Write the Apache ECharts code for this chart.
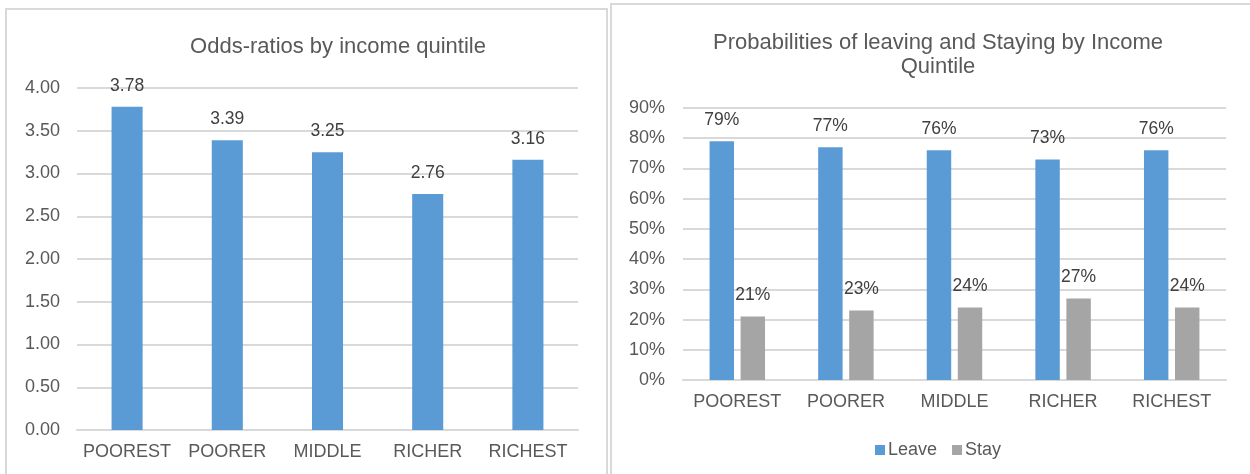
<!DOCTYPE html>
<html>
<head>
<meta charset="utf-8">
<script src="https://cdn.jsdelivr.net/npm/echarts@6/dist/echarts.min.js"></script>
<style>
  html, body { margin: 0; padding: 0; background: #ffffff; }
  #chart { width: 1250px; height: 474px; }
</style>
</head>
<body>
<div id="chart"></div>
<script>
// Income quintiles shared by both panels
const quintiles = ['POOREST', 'POORER', 'MIDDLE', 'RICHER', 'RICHEST'];

// Left panel: odds-ratios
const oddsRatios = [3.78, 3.39, 3.25, 2.76, 3.16];

// Right panel: probabilities (percent)
const leaveProb = [79, 77, 76, 73, 76];
const stayProb = [21, 23, 24, 27, 24];

const FONT = '"Liberation Sans", Arial, sans-serif';
const TEXT = '#595959';
const LABEL = '#404040';
const GRIDLINE = '#d9d9d9';
const BLUE = '#5b9bd5';
const GRAY = '#a5a5a5';

const chart = echarts.init(document.getElementById('chart'), null, { renderer: 'canvas' });

const axisLabelStyle = { color: TEXT, fontFamily: FONT, fontSize: 18 };
const dataLabel = { show: true, position: 'top', distance: 12, color: LABEL, fontFamily: FONT, fontSize: 17.5 };

chart.setOption({
  animation: false,
  textStyle: { fontFamily: FONT },
  graphic: [
    // panel frames
    { type: 'rect', shape: { x: 6, y: 9, width: 601, height: 480 },
      style: { fill: 'none', stroke: GRIDLINE, lineWidth: 2 }, silent: true, z: -1 },
    { type: 'rect', shape: { x: 611, y: 4, width: 660, height: 490 },
      style: { fill: 'none', stroke: GRIDLINE, lineWidth: 2 }, silent: true, z: -1 }
  ],
  title: [
    { text: 'Odds-ratios by income quintile', left: 333, top: 31, textAlign: 'center',
      textStyle: { color: TEXT, fontFamily: FONT, fontSize: 22, fontWeight: 'normal' } },
    { text: 'Probabilities of leaving and Staying by Income\nQuintile', left: 933, top: 26, textAlign: 'center',
      textStyle: { color: TEXT, fontFamily: FONT, fontSize: 22, fontWeight: 'normal', lineHeight: 24 } }
  ],
  legend: {
    data: ['Leave', 'Stay'],
    left: 870, top: 436,
    itemWidth: 10, itemHeight: 10, itemGap: 15,
    icon: 'rect',
    textStyle: { color: TEXT, fontFamily: FONT, fontSize: 18, padding: [0, 0, 0, -2] }
  },
  grid: [
    { left: 77, right: 672, top: 88, bottom: 44 },
    { left: 683, right: 24, top: 108, bottom: 94 }
  ],
  xAxis: [
    { type: 'category', gridIndex: 0, data: quintiles,
      axisLine: { lineStyle: { color: GRIDLINE, width: 2 } }, axisTick: { show: false },
      axisLabel: Object.assign({ margin: 13, interval: 0 }, axisLabelStyle) },
    { type: 'category', gridIndex: 1, data: quintiles,
      axisLine: { lineStyle: { color: GRIDLINE, width: 2 } }, axisTick: { show: false },
      axisLabel: Object.assign({ margin: 13, interval: 0 }, axisLabelStyle) }
  ],
  yAxis: [
    { type: 'value', gridIndex: 0, min: 0, max: 4, interval: 0.5,
      axisLine: { show: false }, axisTick: { show: false },
      splitLine: { lineStyle: { color: GRIDLINE, width: 2 } },
      axisLabel: Object.assign({ margin: 17, formatter: v => v.toFixed(2) }, axisLabelStyle) },
    { type: 'value', gridIndex: 1, min: 0, max: 90, interval: 10,
      axisLine: { show: false }, axisTick: { show: false },
      splitLine: { lineStyle: { color: GRIDLINE, width: 2 } },
      axisLabel: Object.assign({ margin: 18, formatter: v => v + '%' }, axisLabelStyle) }
  ],
  series: [
    { name: 'Odds-ratio', type: 'bar', xAxisIndex: 0, yAxisIndex: 0, data: oddsRatios,
      barWidth: '31%', itemStyle: { color: BLUE },
      label: Object.assign({ formatter: p => p.value.toFixed(2) }, dataLabel) },
    { name: 'Leave', type: 'bar', xAxisIndex: 1, yAxisIndex: 1, data: leaveProb,
      barWidth: '22.5%', barGap: '27%', itemStyle: { color: BLUE },
      label: Object.assign({ formatter: p => p.value + '%' }, dataLabel) },
    { name: 'Stay', type: 'bar', xAxisIndex: 1, yAxisIndex: 1, data: stayProb,
      barWidth: '22.5%', barGap: '27%', itemStyle: { color: GRAY },
      label: Object.assign({ formatter: p => p.value + '%' }, dataLabel) }
  ]
});
</script>
</body>
</html>
